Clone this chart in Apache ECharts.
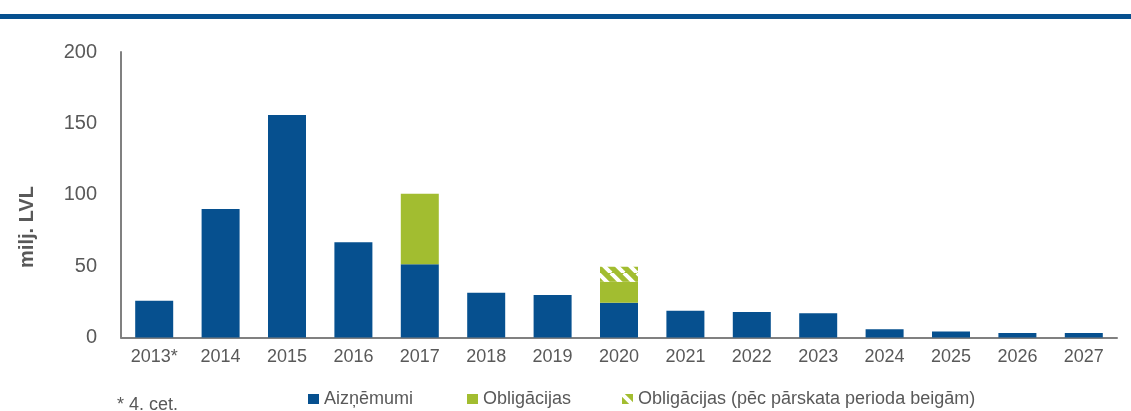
<!DOCTYPE html>
<html>
<head>
<meta charset="utf-8">
<script src="https://cdn.jsdelivr.net/npm/echarts@6/dist/echarts.min.js"></script>
<style>html,body{margin:0;padding:0;background:#fff}#c{width:1131px;height:411px}</style>
</head>
<body>
<div id="c"></div>
<script>
const categories = ['2013*','2014','2015','2016','2017','2018','2019','2020','2021','2022','2023','2024','2025','2026','2027'];
const loans = [25.8, 90, 155.9, 66.7, 51.3, 31.4, 29.8, 24.4, 18.7, 17.9, 17, 5.7, 4.2, 3.1, 3.1];
const bonds = [null, null, null, null, 49.4, null, null, 14.7, null, null, null, null, null, null, null];
const bondsAfter = [null, null, null, null, null, null, null, 10.5, null, null, null, null, null, null, null];
const yTicks = [0, 50, 100, 150, 200];
const seriesNames = ['Aizņēmumi', 'Obligācijas', 'Obligācijas (pēc pārskata perioda beigām)'];

const BLUE = '#06508F', GREEN = '#A2BD30', TXT = '#595959', AX = '#808080';
const FONT = '"Liberation Sans", Arial, sans-serif';

function hatch() {
  const s = 13;
  const cv = document.createElement('canvas');
  cv.width = s; cv.height = s;
  const g = cv.getContext('2d');
  g.fillStyle = GREEN; g.fillRect(0, 0, s, s);
  g.strokeStyle = '#ffffff'; g.lineWidth = 4;
  for (const o of [-s, 0, s]) {
    g.beginPath(); g.moveTo(o, 0); g.lineTo(o + s, s); g.stroke();
  }
  return cv;
}

const chart = echarts.init(document.getElementById('c'), null, {renderer: 'canvas'});
const legendBase = {
  top: 390, padding: 0, itemWidth: 11, itemHeight: 10, itemGap: 0, icon: 'rect',
  textStyle: {color: TXT, fontSize: 18, fontFamily: FONT}
};
chart.setOption({
  animation: false,
  backgroundColor: '#fff',
  grid: {left: 121, right: 14, top: 52, bottom: 73.5, containLabel: false},
  legend: [
    Object.assign({}, legendBase, {left: 308, data: [seriesNames[0]]}),
    Object.assign({}, legendBase, {left: 467, data: [seriesNames[1]]}),
    Object.assign({}, legendBase, {left: 622, data: [seriesNames[2]]})
  ],
  xAxis: {
    type: 'category', data: categories,
    axisTick: {show: false},
    axisLine: {lineStyle: {color: AX, width: 2}},
    axisLabel: {color: TXT, fontSize: 18, fontFamily: FONT, margin: 11}
  },
  yAxis: {
    type: 'value', min: yTicks[0], max: yTicks[yTicks.length - 1], interval: 50,
    splitLine: {show: false},
    axisTick: {show: false},
    axisLine: {show: true, lineStyle: {color: AX, width: 2}},
    axisLabel: {color: TXT, fontSize: 20, fontFamily: FONT, margin: 24}
  },
  series: [
    {name: seriesNames[0], type: 'bar', stack: 'a', barWidth: 38, data: loans, itemStyle: {color: BLUE}},
    {name: seriesNames[1], type: 'bar', stack: 'a', barWidth: 38, data: bonds, itemStyle: {color: GREEN}},
    {name: seriesNames[2], type: 'bar', stack: 'a', barWidth: 38, data: bondsAfter,
     itemStyle: {color: {image: hatch(), repeat: 'repeat'}}}
  ],
  graphic: [
    {type: 'rect', left: 0, top: 14, shape: {width: 1131, height: 5}, style: {fill: BLUE}},
    {type: 'text', x: 27, y: 227, rotation: Math.PI / 2,
     style: {text: 'milj. LVL', fill: TXT, font: 'bold 20px ' + FONT, textAlign: 'center', textVerticalAlign: 'middle'}},
    {type: 'text', left: 117, top: 396,
     style: {text: '* 4. cet.', fill: TXT, font: '18px ' + FONT}}
  ]
});
</script>
</body>
</html>
